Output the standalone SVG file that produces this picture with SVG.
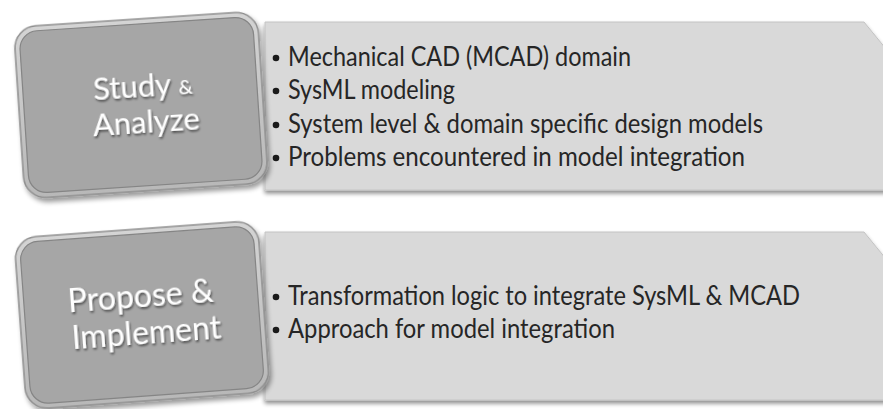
<svg xmlns="http://www.w3.org/2000/svg" width="883" height="409" viewBox="0 0 883 409">
  <defs>
    <filter id="panelShadow" x="-5%" y="-10%" width="110%" height="125%">
      <feGaussianBlur in="SourceAlpha" stdDeviation="2"/>
      <feOffset dx="0" dy="3" result="b"/>
      <feComponentTransfer><feFuncA type="linear" slope="0.45"/></feComponentTransfer>
      <feMerge><feMergeNode/><feMergeNode in="SourceGraphic"/></feMerge>
    </filter>
    <filter id="boxShadow" x="-10%" y="-10%" width="125%" height="125%">
      <feGaussianBlur in="SourceAlpha" stdDeviation="2.5"/>
      <feOffset dx="2" dy="4" result="b"/>
      <feComponentTransfer><feFuncA type="linear" slope="0.4"/></feComponentTransfer>
      <feMerge><feMergeNode/><feMergeNode in="SourceGraphic"/></feMerge>
    </filter>
    <filter id="textShadow" x="-10%" y="-20%" width="120%" height="150%">
      <feDropShadow dx="1" dy="2" stdDeviation="1.2" flood-color="#000" flood-opacity="0.55"/>
    </filter>
    <linearGradient id="bevel" x1="0" y1="0" x2="0" y2="1">
      <stop offset="0" stop-color="#d4d4d4"/>
      <stop offset="1" stop-color="#b8b8b8"/>
    </linearGradient>
  </defs>
  <style>
    .panel { fill: #d9d9d9; stroke: #c4c4c4; stroke-width: 1; }
    .frame { fill: url(#bevel); stroke: #8e8e8e; stroke-width: 1.5; }
    .face { fill: #a6a6a6; stroke: #858585; stroke-width: 1.2; }
    .title { font-family: Lato, "Open Sans", sans-serif; font-size: 31px; fill: #ffffff; text-anchor: middle; }
    .big { font-size: 32px; }
    .amp { font-size: 20px; }
    .item { font-family: Lato, "Open Sans", sans-serif; font-size: 26px; fill: #262626; }
    .dot { fill: #1a1a1a; }
  </style>

  <!-- upper step: study -->
  <g id="study-panel">
    <polygon class="panel" filter="url(#panelShadow)" points="265,22 864,22 900,66 900,190 265,190"/>
    <circle class="dot" cx="276" cy="58" r="3.3"/>
    <circle class="dot" cx="276" cy="91" r="3.3"/>
    <circle class="dot" cx="276" cy="125" r="3.3"/>
    <circle class="dot" cx="276" cy="158" r="3.3"/>
    <text class="item" x="288" y="66" textLength="343" lengthAdjust="spacingAndGlyphs">Mechanical CAD (MCAD) domain</text>
    <text class="item" x="288" y="99" textLength="167" lengthAdjust="spacingAndGlyphs">SysML modeling</text>
    <text class="item" x="288" y="133" textLength="475" lengthAdjust="spacingAndGlyphs">System level &amp; domain specific design models</text>
    <text class="item" x="288" y="166" textLength="457" lengthAdjust="spacingAndGlyphs">Problems encountered in model integration</text>
  </g>
  <g id="study-box" transform="translate(141,105) rotate(-3.8)">
    <rect class="frame" filter="url(#boxShadow)" x="-122" y="-86" width="244" height="172" rx="22"/>
    <rect class="face" x="-117" y="-81" width="234" height="162" rx="18"/>
    <g filter="url(#textShadow)">
      <text class="title" x="3" y="-8">Study <tspan class="amp">&amp;</tspan></text>
      <text class="title" x="4" y="28">Analyze</text>
    </g>
  </g>

  <!-- lower step: propose -->
  <g id="propose-panel">
    <polygon class="panel" filter="url(#panelShadow)" points="265,232 864,232 900,276 900,400 265,400"/>
    <circle class="dot" cx="276" cy="297" r="3.3"/>
    <circle class="dot" cx="276" cy="330" r="3.3"/>
    <text class="item" x="288" y="305" textLength="512" lengthAdjust="spacingAndGlyphs">Transformation logic to integrate SysML &amp; MCAD</text>
    <text class="item" x="288" y="338" textLength="327" lengthAdjust="spacingAndGlyphs">Approach for model integration</text>
  </g>
  <g id="propose-box" transform="translate(142,315) rotate(-4.2)">
    <rect class="frame" filter="url(#boxShadow)" x="-122" y="-86" width="244" height="172" rx="22"/>
    <rect class="face" x="-117" y="-81" width="234" height="162" rx="18"/>
    <g filter="url(#textShadow)">
      <text class="title big" x="0" y="-8">Propose &amp;</text>
      <text class="title big" x="3" y="29">Implement</text>
    </g>
  </g>
</svg>
